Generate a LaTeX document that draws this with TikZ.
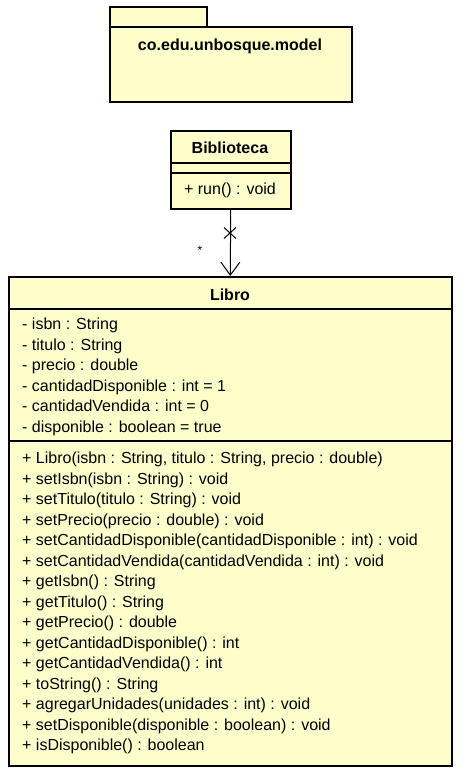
\documentclass[tikz,border=0pt]{standalone}
\usepackage{fontspec}
\setmainfont{Liberation Sans}
\usepackage{tikz}
\usetikzlibrary{arrows.meta}
\usetikzlibrary{positioning}
\usetikzlibrary{shapes.misc}
\definecolor{umlfill}{RGB}{255,255,204}

\begin{document}
\begin{tikzpicture}[x=1pt,y=-1pt,
    umlbox/.style={draw,fill=umlfill,line width=1.5pt,anchor=north west,inner sep=0},
    members/.style={anchor=north west,align=left,inner sep=0,font=\fontsize{16}{20.5}\selectfont},
    every node/.style={font=\fontsize{16}{20.5}\selectfont}]
    \useasboundingbox (0,0) rectangle (461,777);

    % package
    \node(pkgtab)[umlbox,minimum width=97,minimum height=20] at (109,6) {};
    \node(pkg)[umlbox,minimum width=242,minimum height=75] at (109,26) {};
    \node(pkgname) at (230,46) {\textbf{co.edu.unbosque.model}};

    % Biblioteca
    \node(bibname)[umlbox,minimum width=120,minimum height=32] at (170,130) {};
    \node(bibattr)[umlbox,minimum width=120,minimum height=10] at (170,162) {};
    \node(bibops)[umlbox,minimum width=120,minimum height=36] at (170,172) {};
    \node(bibtitle) at (230,148) {\textbf{Biblioteca}};
    \node(bibrun) at (230,190) {+ run() : void};

    % Libro
    \node(libname)[umlbox,minimum width=443,minimum height=32] at (8,276) {};
    \node(libattr)[umlbox,minimum width=443,minimum height=132] at (8,308) {};
    \node(libops)[umlbox,minimum width=443,minimum height=325] at (8,440) {};
    \node(libtitle) at (230,295) {\textbf{Libro}};
    \node(libfields)[members] at (22,318) {
        - isbn : String\\
        - titulo : String\\
        - precio : double\\
        - cantidadDisponible : int = 1\\
        - cantidadVendida : int = 0\\
        - disponible : boolean = true};
    \node(libmethods)[members] at (22,452) {
        + Libro(isbn : String, titulo : String, precio : double)\\
        + setIsbn(isbn : String) : void\\
        + setTitulo(titulo : String) : void\\
        + setPrecio(precio : double) : void\\
        + setCantidadDisponible(cantidadDisponible : int) : void\\
        + setCantidadVendida(cantidadVendida : int) : void\\
        + getIsbn() : String\\
        + getTitulo() : String\\
        + getPrecio() : double\\
        + getCantidadDisponible() : int\\
        + getCantidadVendida() : int\\
        + toString() : String\\
        + agregarUnidades(unidades : int) : void\\
        + setDisponible(disponible : boolean) : void\\
        + isDisponible() : boolean};

    % association
    \draw[-{Straight Barb[length=13,width=19,line width=1pt]},line width=1pt] (bibops.south)--(libname.north);
    \node(nonav)[cross out,draw,line width=1pt,minimum width=11,minimum height=10,inner sep=0] at (230,233) {};
    \node(mult) at (200,250) {\fontsize{12}{12}\selectfont *};
\end{tikzpicture}
\end{document}
